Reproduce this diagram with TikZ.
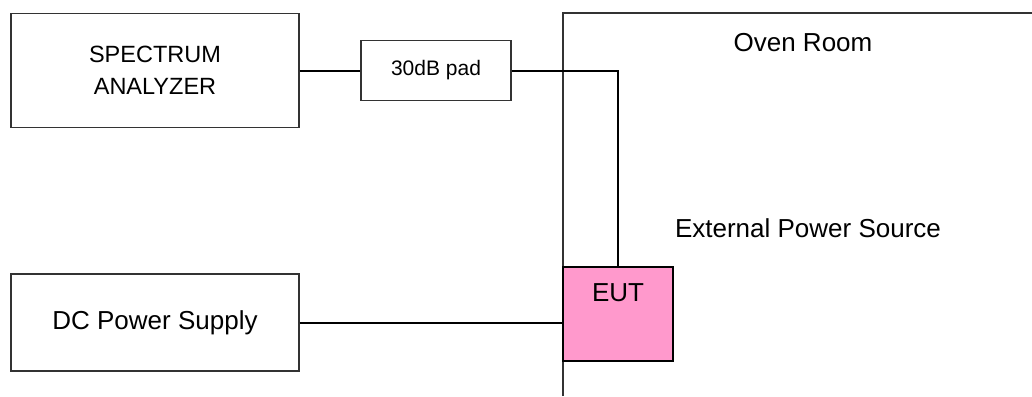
\documentclass[tikz,border=0pt]{standalone}
\usepackage{fontspec}
\setmainfont{Liberation Sans}
\usepackage{tikz}
\usetikzlibrary{positioning,calc}
\definecolor{eutpink}{RGB}{255,153,204}

\begin{document}
\begin{tikzpicture}[
    x=1pt, y=-1pt,
    box/.style={rectangle, draw=black!80, line width=1.2pt, inner sep=0pt, font=\fontsize{26}{32}\selectfont},
    wire/.style={black, line width=2pt},
    wall/.style={black!80, line width=1.5pt},
    label/.style={font=\fontsize{26}{32}\selectfont, inner sep=0pt}
]
    \useasboundingbox (0,0) rectangle (1032,396);

    % Instruments outside the oven room
    \node[box, minimum width=288pt, minimum height=114pt, align=center, font=\fontsize{23.5}{32}\selectfont] (sa) at (155,70.5) {SPECTRUM\\ANALYZER};
    \node[box, minimum width=150pt, minimum height=60pt, font=\fontsize{21}{26}\selectfont] (pad) at (436,70.5) {30dB pad};
    \node[box, minimum width=288pt, minimum height=97pt] (dc) at (155,322.5) {DC Power Supply};

    % Oven room wall
    \coordinate (roombl) at (563,396);
    \coordinate (roomtl) at (563,13);
    \coordinate (roomtr) at (1032,13);
    \draw[wall] (roombl) -- (roomtl) -- (roomtr);
    \node[label] (room) at (803,43) {Oven Room};
    \node[label] (ext) at (808,228) {External Power Source};

    % EUT
    \node[box, fill=eutpink, draw=black, minimum width=110pt, minimum height=94pt] (eut) at (618,314) {};
    \node[label, below=17pt of eut.north] (euttext) {EUT};

    % Connections
    \draw[wire] (sa.east) -- (pad.west);
    \draw[wire] (pad.east) -| (eut.north);
    \draw[wire] (dc.east) -- (dc.east -| eut.west);
\end{tikzpicture}
\end{document}
